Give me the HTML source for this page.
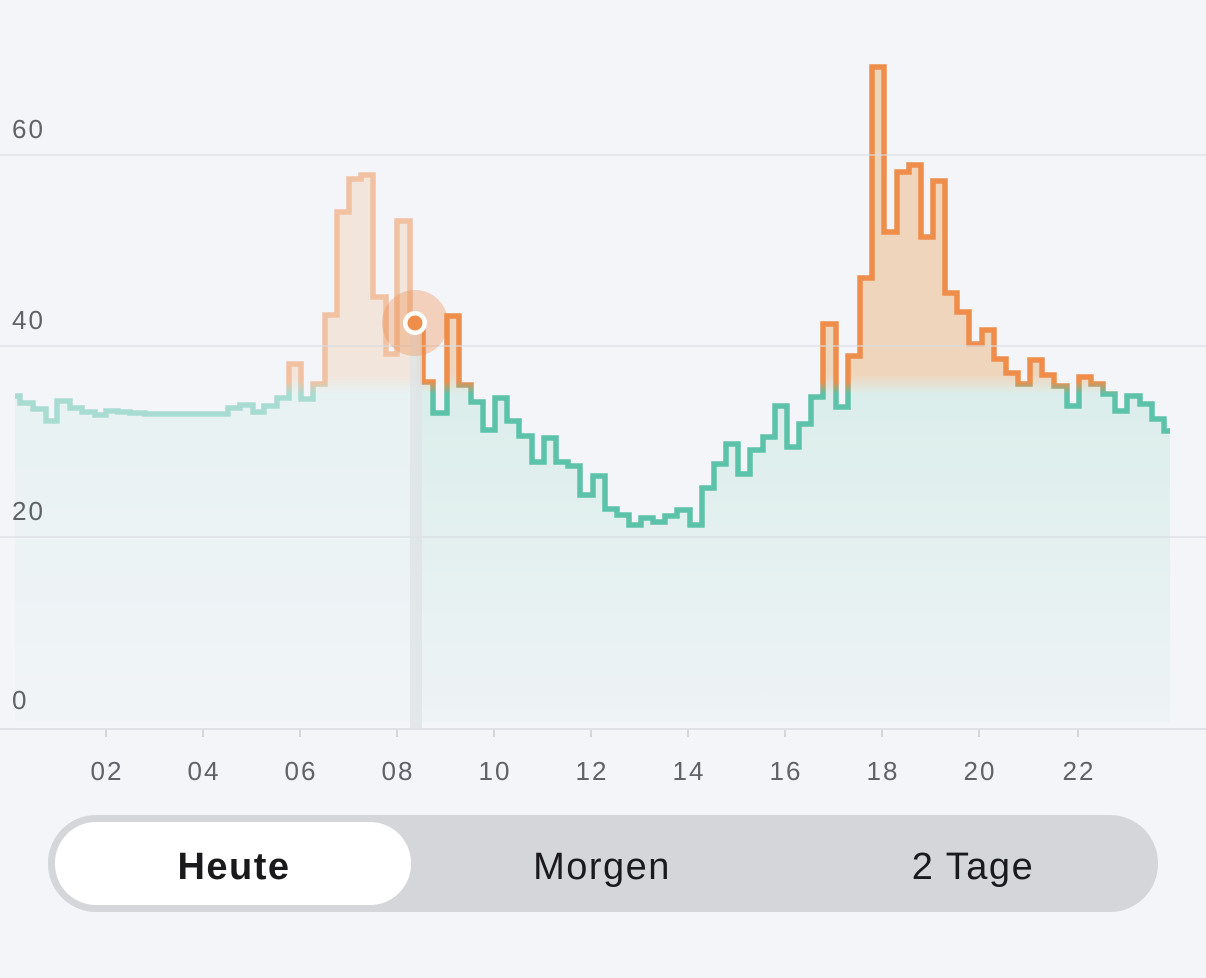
<!DOCTYPE html>
<html><head><meta charset="utf-8"><style>
html,body{margin:0;padding:0;background:#f4f5f9;}
body{width:1206px;height:973px;overflow:hidden;font-family:"Liberation Sans",sans-serif;}
</style></head><body>
<svg width="1206" height="973" viewBox="0 0 1206 973" xmlns="http://www.w3.org/2000/svg">
<defs>
<linearGradient id="sg" gradientUnits="userSpaceOnUse" x1="0" y1="0" x2="0" y2="973">
<stop offset="0" stop-color="#ef8d4a"/><stop offset="0.392" stop-color="#ef8d4a"/><stop offset="0.405" stop-color="#5cc2aa"/><stop offset="1" stop-color="#5cc2aa"/>
</linearGradient>
<linearGradient id="fg" gradientUnits="userSpaceOnUse" x1="0" y1="0" x2="0" y2="973">
<stop offset="0" stop-color="#f0d5bd"/><stop offset="0.385" stop-color="#f0d5bd"/><stop offset="0.405" stop-color="#dbeeeb"/><stop offset="0.74" stop-color="#eef3f5"/><stop offset="1" stop-color="#eef3f5"/>
</linearGradient>
</defs>
<path id="p" d="M15 396 H20 V403 H33 V409 H46 V421 H57 V401 H70 V408 H82 V412 H95 V415 H106 V411 H118 V412 H130 V413 H145 V414 H228 V408 H240 V405 H253 V412 H264 V406 H277 V398 H289 V364 H301 V399 H313 V384 H325 V315 H337 V212 H349 V179 H361 V175 H373 V297 H386 V354 H397 V221 H410 V323 H423 V382 H433 V413 H447 V316 H459 V385 H471 V402 H483 V430 H495 V398 H507 V421 H519 V436 H532 V462 H544 V438 H556 V462 H568 V466 H580 V495 H593 V476 H605 V509 H617 V515 H629 V525 H641 V518 H653 V522 H665 V516 H677 V510 H690 V525 H702 V488 H714 V464 H726 V444 H738 V474 H750 V450 H763 V437 H775 V406 H787 V447 H799 V424 H811 V397 H823 V324 H836 V407 H848 V356 H860 V278 H872 V67 H884 V232 H897 V172 H909 V165 H921 V237 H933 V181 H945 V293 H957 V312 H969 V344 H982 V330 H994 V359 H1006 V373 H1018 V384 H1030 V360 H1042 V375 H1054 V386 H1067 V406 H1079 V377 H1091 V384 H1103 V394 H1115 V411 H1127 V396 H1140 V404 H1152 V419 H1164 V431 H1170" fill="none"/>
<path d="M15 396 H20 V403 H33 V409 H46 V421 H57 V401 H70 V408 H82 V412 H95 V415 H106 V411 H118 V412 H130 V413 H145 V414 H228 V408 H240 V405 H253 V412 H264 V406 H277 V398 H289 V364 H301 V399 H313 V384 H325 V315 H337 V212 H349 V179 H361 V175 H373 V297 H386 V354 H397 V221 H410 V323 H423 V382 H433 V413 H447 V316 H459 V385 H471 V402 H483 V430 H495 V398 H507 V421 H519 V436 H532 V462 H544 V438 H556 V462 H568 V466 H580 V495 H593 V476 H605 V509 H617 V515 H629 V525 H641 V518 H653 V522 H665 V516 H677 V510 H690 V525 H702 V488 H714 V464 H726 V444 H738 V474 H750 V450 H763 V437 H775 V406 H787 V447 H799 V424 H811 V397 H823 V324 H836 V407 H848 V356 H860 V278 H872 V67 H884 V232 H897 V172 H909 V165 H921 V237 H933 V181 H945 V293 H957 V312 H969 V344 H982 V330 H994 V359 H1006 V373 H1018 V384 H1030 V360 H1042 V375 H1054 V386 H1067 V406 H1079 V377 H1091 V384 H1103 V394 H1115 V411 H1127 V396 H1140 V404 H1152 V419 H1164 V431 H1170 V722 H15 Z" fill="url(#fg)"/>
<use href="#p" stroke="url(#sg)" stroke-width="5.5" stroke-linejoin="miter"/>
<rect x="0" y="50" width="416" height="680" fill="#f4f5f9" opacity="0.5"/>
<g stroke="#d9dce2" stroke-width="1.5" opacity="0.8">
<line x1="0" y1="155" x2="1206" y2="155"/><line x1="0" y1="346" x2="1206" y2="346"/><line x1="0" y1="537" x2="1206" y2="537"/>
</g>
<line x1="0" y1="729" x2="1206" y2="729" stroke="#dfe1e6" stroke-width="2"/>
<rect x="410" y="323" width="12" height="406" fill="#dfe3e6" opacity="0.8"/>
<circle cx="415" cy="323" r="33" fill="#ef8d4a" opacity="0.35"/>
<circle cx="415" cy="323" r="12" fill="#fff"/>
<circle cx="415" cy="323" r="7.5" fill="#ef8d4a"/>
<g fill="#5f6368" font-size="26" letter-spacing="2" font-family="Liberation Sans, sans-serif">
<text x="12" y="138">60</text><text x="12" y="329">40</text><text x="12" y="520">20</text><text x="12" y="709">0</text>
</g>
<g stroke="#c9ccd2" stroke-width="1.5">
<line x1="106" y1="730" x2="106" y2="737"/><line x1="203" y1="730" x2="203" y2="737"/><line x1="300" y1="730" x2="300" y2="737"/><line x1="397" y1="730" x2="397" y2="737"/><line x1="494" y1="730" x2="494" y2="737"/><line x1="591" y1="730" x2="591" y2="737"/><line x1="688" y1="730" x2="688" y2="737"/><line x1="785" y1="730" x2="785" y2="737"/><line x1="882" y1="730" x2="882" y2="737"/><line x1="979" y1="730" x2="979" y2="737"/><line x1="1078" y1="730" x2="1078" y2="737"/>
</g>
<g fill="#5f6368" font-size="26" letter-spacing="2" text-anchor="middle" font-family="Liberation Sans, sans-serif">
<text x="107" y="780">02</text><text x="204" y="780">04</text><text x="301" y="780">06</text><text x="398" y="780">08</text><text x="495" y="780">10</text><text x="592" y="780">12</text><text x="689" y="780">14</text><text x="786" y="780">16</text><text x="883" y="780">18</text><text x="980" y="780">20</text><text x="1079" y="780">22</text>
</g>
<rect x="48" y="815" width="1110" height="97" rx="48" fill="#d4d6da"/>
<rect x="55" y="822" width="356" height="83" rx="41" fill="#ffffff"/>
<g font-size="38" letter-spacing="1.5" text-anchor="middle" fill="#1a1a1c" font-family="Liberation Sans, sans-serif">
<text x="234" y="879" font-weight="bold">Heute</text>
<text x="602" y="879">Morgen</text>
<text x="973" y="879">2 Tage</text>
</g>
</svg>
</body></html>
